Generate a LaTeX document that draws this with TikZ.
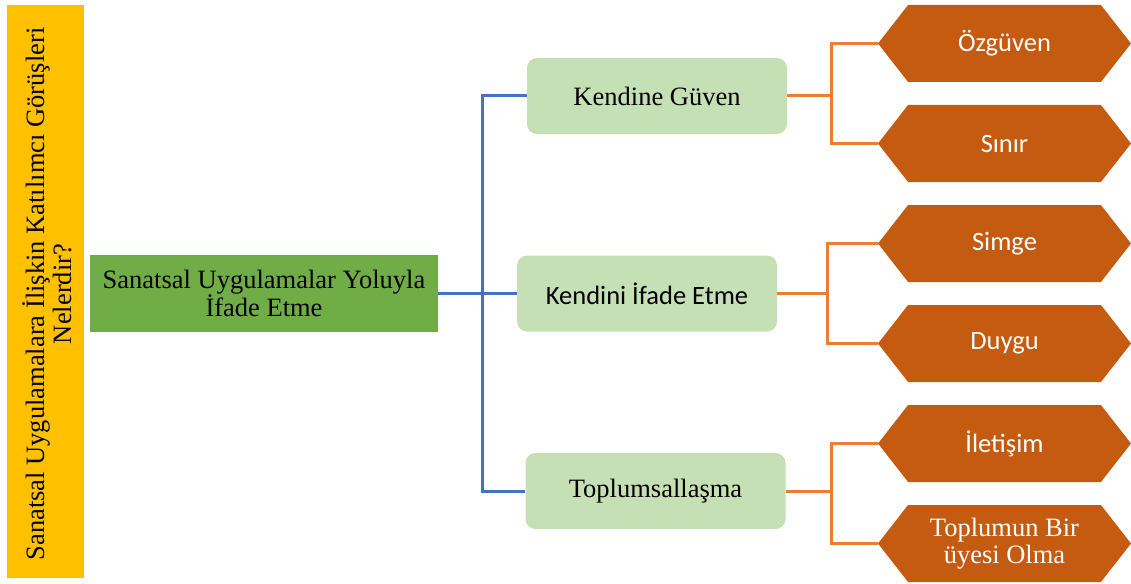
\documentclass[tikz,border=0pt]{standalone}
\usepackage{fontspec}
\setmainfont{Liberation Serif}
\newfontfamily\calibri{Carlito}
\usetikzlibrary{shapes.symbols}

\definecolor{barYellow}{HTML}{FFC000}
\definecolor{mainGreen}{HTML}{70AD47}
\definecolor{leafGreen}{HTML}{C5E0B4}
\definecolor{hexOrange}{HTML}{C55A11}
\definecolor{lineOrange}{HTML}{ED7D31}
\definecolor{lineBlue}{HTML}{4472C4}

\begin{document}
\begin{tikzpicture}[x=1pt,y=-1pt,
  topic/.style={fill=leafGreen,minimum width=260pt,minimum height=76pt,rounded corners=10pt,inner sep=0pt},
  hexleaf/.style={signal,signal to=west and east,signal pointer angle=104,fill=hexOrange,text=white,
    minimum width=253pt,minimum height=77pt,inner sep=0pt},
  blueline/.style={lineBlue,line width=3pt},
  orangeline/.style={lineOrange,line width=3pt}]
\useasboundingbox (0,0) rectangle (1131,583);

% question bar
\fill[barYellow] (7,5) rectangle (84,578);
\node[rotate=90,align=center,font=\fontsize{26.5}{27}\selectfont] (question) at (47,294)
  {Sanatsal Uygulamalara İlişkin Katılımcı Görüşleri\\Nelerdir?};

% main theme
\node[fill=mainGreen,minimum width=348pt,minimum height=77pt,align=center,inner sep=0pt,
  font=\fontsize{26.5}{25}\selectfont] (theme) at (264,293.5)
  {Sanatsal Uygulamalar Yoluyla\\İfade Etme};

% categories
\node[topic,font=\fontsize{26.5}{26}\selectfont] (guven) at (657,96) {Kendine Güven};
\node[topic,font=\calibri\fontsize{26.5}{26}\selectfont] (ifade) at (647,293.5) {Kendini İfade Etme};
\node[topic,font=\fontsize{26.5}{26}\selectfont] (toplum) at (655.5,491) {Toplumsallaşma};

% codes
\node[hexleaf,font=\calibri\fontsize{26.5}{26}\selectfont] (ozguven) at (1004.5,43.5) {Özgüven};
\node[hexleaf,font=\calibri\fontsize{26.5}{26}\selectfont] (sinir) at (1004.5,143.5) {Sınır};
\node[hexleaf,font=\calibri\fontsize{26.5}{26}\selectfont] (simge) at (1004.5,243.5) {Simge};
\node[hexleaf,font=\calibri\fontsize{26.5}{26}\selectfont] (duygu) at (1004.5,343.5) {Duygu};
\node[hexleaf,font=\calibri\fontsize{26.5}{26}\selectfont] (iletisim) at (1004.5,443.5) {İletişim};
\node[hexleaf,align=center,font=\fontsize{26.5}{27}\selectfont] (uyesi) at (1004.5,543.5) {Toplumun Bir\\üyesi Olma};

% blue connectors
\coordinate (themejoint) at (482,293.5);
\draw[blueline] (theme.east) -- (ifade.west);
\draw[blueline] (themejoint) |- (guven.west);
\draw[blueline] (themejoint) |- (toplum.west);

% orange connectors
\coordinate (guvenjoint) at (831,96);
\coordinate (ifadejoint) at (827,293.5);
\coordinate (toplumjoint) at (831,491);
\draw[orangeline] (guven.east) -- (guvenjoint);
\draw[orangeline] (ozguven.west) -| (guvenjoint) |- (sinir.west);
\draw[orangeline] (ifade.east) -- (ifadejoint);
\draw[orangeline] (simge.west) -| (ifadejoint) |- (duygu.west);
\draw[orangeline] (toplum.east) -- (toplumjoint);
\draw[orangeline] (iletisim.west) -| (toplumjoint) |- (uyesi.west);

\end{tikzpicture}
\end{document}
